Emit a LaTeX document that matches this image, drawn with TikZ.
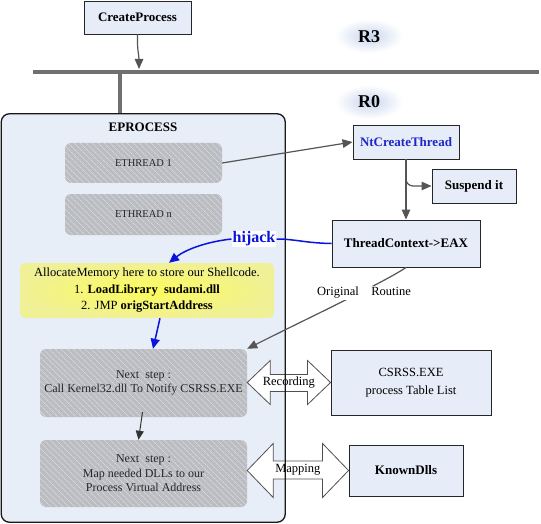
\documentclass[tikz,border=0pt]{standalone}
\usepackage{fontspec}
\setmainfont{Liberation Serif}
\usetikzlibrary{arrows.meta,calc,patterns.meta}

\definecolor{boxfill}{RGB}{230,236,248}
\definecolor{epfill}{RGB}{232,238,248}
\definecolor{barcol}{RGB}{112,112,112}
\definecolor{arrcol}{RGB}{85,85,85}
\definecolor{graybox}{RGB}{188,189,192}
\definecolor{hatchcol}{RGB}{212,215,226}
\definecolor{hjblue}{RGB}{10,20,220}
\definecolor{ntblue}{RGB}{30,40,200}
\definecolor{yelfill}{RGB}{240,240,150}
\definecolor{yelcore}{RGB}{252,252,90}
\definecolor{glow}{RGB}{200,214,238}
\definecolor{dblcol}{RGB}{80,80,80}

\tikzset{
  bluebox/.style={draw=black!85, line width=0.9pt, fill=boxfill, inner sep=0pt,
    align=center, font=\fontsize{13}{15}\selectfont\bfseries},
  graystep/.style={rounded corners=6pt, fill=graybox,
    postaction={pattern={Lines[angle=-45,distance=4pt,line width=0.8pt]}, pattern color=hatchcol},
    inner sep=0pt, align=center, text=black!85},
  garrow/.style={draw=arrcol, line width=1.2pt, -{Triangle[length=10pt,width=8.5pt]}},
  darrow/.style={draw=black!80, line width=1pt, -{Triangle[length=9pt,width=8pt]}},
  bluearrow/.style={draw=hjblue, line width=1.5pt, -{Triangle[length=10pt,width=9pt]}},
  bluelink/.style={draw=hjblue, line width=1.5pt},
  barline/.style={draw=barcol, line width=4.2pt},
  dblarrow/.style={draw=dblcol, line width=0.8pt, fill=white, line join=miter},
  ringlabel/.style={font=\fontsize{18}{20}\selectfont\bfseries, inner sep=0pt},
}

\begin{document}
\begin{tikzpicture}[x=1pt,y=-1pt]
\useasboundingbox (0,0) rectangle (541,524);
\fill[white] (0,0) rectangle (541,524);

% ring labels with glow
\shade[inner color=glow, outer color=white] (369,36) ellipse [x radius=34, y radius=17];
\shade[inner color=glow, outer color=white] (369,102) ellipse [x radius=34, y radius=17];
\node[ringlabel] (r3) at (369,37) {R3};
\node[ringlabel] (r0) at (369,102) {R0};

% CreateProcess and the ring bar
\node[bluebox, minimum width=107pt, minimum height=33pt] (cp) at (137.5,17.5) {CreateProcess};
\coordinate (barL) at (33,72);
\coordinate (barR) at (539,72);
\coordinate (vtop) at (120,72);
\coordinate (barhit) at (139,69);

% EPROCESS container (fill only; border drawn later)
\node[fill=epfill, rounded corners=8pt, minimum width=283.5pt, minimum height=408pt, inner sep=0pt] (ep) at (143.25,318) {};
\draw[barline] (vtop) -- (vtop |- ep.north);
\draw[barline] (barL) -- (barR);
\draw[garrow] (cp.south) .. controls (137,50) and (139,55) .. (barhit);

\node[font=\fontsize{13}{15}\selectfont\bfseries, inner sep=0pt] (eptitle) at (143,127) {EPROCESS};

% inner boxes
\node[graystep, minimum width=157pt, minimum height=40pt, font=\fontsize{10.5}{12}\selectfont] (et1) at (143.5,163) {ETHREAD 1};
\node[graystep, minimum width=157pt, minimum height=41pt, font=\fontsize{10.5}{12}\selectfont] (etn) at (143.5,214.5) {ETHREAD n};
\node[rounded corners=6pt, inner color=yelcore, outer color=yelfill, minimum width=254pt, minimum height=55pt,
      inner sep=0pt, align=center, font=\fontsize{12.5}{16.5}\selectfont] (yel) at (147,290.5)
  {AllocateMemory here to store our Shellcode.\\ 1. \textbf{LoadLibrary\ \ sudami.dll}\\ 2. JMP \textbf{origStartAddress}};
\node[graystep, minimum width=207pt, minimum height=68pt, font=\fontsize{12}{14.5}\selectfont] (b1) at (143.5,383)
  {Next\ \ step :\\ Call Kernel32.dll To Notify CSRSS.EXE};
\node[graystep, minimum width=207pt, minimum height=67pt, font=\fontsize{12}{14.5}\selectfont] (b2) at (143.5,473.5)
  {Next\ \ step :\\ Map needed DLLs to our\\ Process Virtual Address};

% right column boxes
\node[bluebox, minimum width=106pt, minimum height=34pt, text=ntblue] (nt) at (406,142) {NtCreateThread};
\node[bluebox, minimum width=84pt, minimum height=34pt] (sus) at (474,186) {Suspend it};
\node[bluebox, minimum width=148pt, minimum height=47pt] (tc) at (406,243.5) {ThreadContext->EAX};
\node[bluebox, minimum width=160pt, minimum height=65pt, font=\fontsize{12.5}{18}\selectfont] (cs) at (411,382.5)
  {CSRSS.EXE\\ process Table List};
\node[bluebox, minimum width=114pt, minimum height=51pt] (kd) at (406,470.5) {KnownDlls};

% double arrows
\coordinate (rl) at (b1.east |- cs.west);
\coordinate (rr) at (cs.west);
\draw[dblarrow] (rl) -- ($(rl)+(23,-22)$) -- ($(rl)+(23,-8)$) -- ($(rr)+(-23,-8)$) -- ($(rr)+(-23,-22)$)
  -- (rr) -- ($(rr)+(-23,22)$) -- ($(rr)+(-23,9)$) -- ($(rl)+(23,9)$) -- ($(rl)+(23,22)$) -- cycle;
\node[font=\fontsize{12.5}{14}\selectfont, inner sep=0pt] (rec) at ($(rl)!0.5!(rr)$) {Recording};
\coordinate (ml) at (b2.east |- kd.west);
\coordinate (mr) at (kd.west);
\draw[dblarrow] (ml) -- ($(ml)+(26,-27)$) -- ($(ml)+(26,-9.5)$) -- ($(mr)+(-26,-9.5)$) -- ($(mr)+(-26,-27)$)
  -- (mr) -- ($(mr)+(-26,27)$) -- ($(mr)+(-26,8.5)$) -- ($(ml)+(26,8.5)$) -- ($(ml)+(26,27)$) -- cycle;
\node[font=\fontsize{12.5}{14}\selectfont, inner sep=0pt] (map) at ($(ml)!0.5!(mr)+(0,-1)$) {Mapping};

% EPROCESS border on top
\draw[black!90, line width=1.3pt, rounded corners=8pt] (ep.south west) rectangle (ep.north east);

% connectors
\draw[garrow] (et1.east) -- (nt.west);
\draw[garrow, rounded corners=7pt] (nt.south) |- (sus.west);
\draw[garrow] (nt.south) -- (tc.north);
\draw[garrow] (tc.south) .. controls (385,282) and (300,322) .. (b1.north east);
\node[fill=white, inner sep=1pt, font=\fontsize{12.5}{14}\selectfont] (orig) at (364,293) {Original\ \ \ \ Routine};

\node[fill=white, inner sep=1pt, text=hjblue, font=\fontsize{16}{18}\selectfont\bfseries] (hj) at (254,239) {hijack};
\coordinate (yeltop) at ($(yel.north)+(22,0)$);
\draw[bluelink] (tc.west) .. controls (305,243) and (295,239) .. (hj.east);
\draw[bluearrow] (hj.west) .. controls (205,242) and (185,250) .. (yeltop);
\draw[bluearrow] ($(yel.south)+(13,0)$) -- ($(b1.north)+(9.5,0)$);
\draw[darrow] ($(b1.south)+(-1,-5)$) -- ($(b2.north)+(-5,0)$);
\end{tikzpicture}
\end{document}
